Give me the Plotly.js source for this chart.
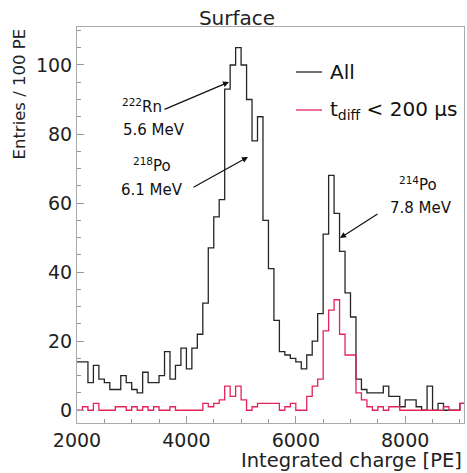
<!DOCTYPE html>
<html>
<head>
<meta charset="utf-8">
<script src="https://cdn.plot.ly/plotly-3.0.1.min.js"></script>
<style>html,body{margin:0;padding:0;background:#fff;}#chart{width:467px;height:473px;}</style>
</head>
<body>
<div id="chart"></div>
<script>
// Histogram: 100 PE bins starting at 2000 PE
const binStart = 2000;
const binWidth = 100;
const allCounts = [14,14,8,13,9,8,6,6,10,8,6,5,11,8,8,10,17,9,13,18,12,18,22,31,47,56,61,93,100,105,100,90,78,85,55,41,26,17,16,15,14,12,16,20,28,51,68,57,46,34,27,9,6,5,5,5,7,4,4,1,3,3,1,0,7,0,2,0,0,0,2];
const tdiffCounts = [0,1,0,2,0,0,0,1,1,0,1,0,1,0,1,0,0,1,0,0,0,0,0,2,1,2,3,7,4,7,3,0,1,2,2,2,2,0,1,2,0,0,4,7,9,23,29,32,22,16,16,5,3,1,0,1,0,1,1,0,0,0,0,0,0,0,0,1,0,0,2];
const xTickVals = [2000,4000,6000,8000];
const yTickVals = [0,20,40,60,80,100];

function stepXY(counts){
  const xs = [], ys = [];
  counts.forEach((c,i)=>{ xs.push(binStart + i*binWidth); ys.push(c); });
  xs.push(binStart + counts.length*binWidth); ys.push(counts[counts.length-1]);
  return {xs, ys};
}
const a = stepXY(allCounts), t = stepXY(tdiffCounts);

// plot area in px
const L=77, R=464, T=27, B=423, W=467, H=473;
const px = x => (x-L)/(R-L);
const py = y => (B-y)/(B-T);

const txtFont = {family:'DejaVu Sans, sans-serif', size:15, color:'#111'};
const legFont = {family:'DejaVu Sans, sans-serif', size:20, color:'#111'};

const traces = [
  {x:a.xs, y:a.ys, type:'scatter', mode:'lines', line:{shape:'hv', color:'#262626', width:1.3}, showlegend:false, hoverinfo:'skip'},
  {x:t.xs, y:t.ys, type:'scatter', mode:'lines', line:{shape:'hv', color:'#e3245a', width:1.3}, showlegend:false, hoverinfo:'skip'}
];

function lab(text, x, y, extra){
  return Object.assign({text, xref:'paper', yref:'paper', x:px(x), y:py(y), showarrow:false, font:txtFont, xanchor:'center', yanchor:'middle'}, extra||{});
}
function arrow(x0,y0,x1,y1){
  return {text:'', xref:'paper', yref:'paper', x:px(x1), y:py(y1), ax:x0-x1, ay:y0-y1, showarrow:true, arrowhead:2, arrowsize:1, arrowwidth:1.2, arrowcolor:'#111'};
}

const layout = {
  width:W, height:H,
  margin:{l:L, r:W-R, t:T, b:H-B},
  paper_bgcolor:'#fff', plot_bgcolor:'#fff',
  title:{text:'Surface', xref:'container', yref:'container', x:237/W, y:1-18/H, xanchor:'center', yanchor:'middle', font:{family:'DejaVu Sans, sans-serif', size:20, color:'#222'}},
  xaxis:{range:[2000,9075], tickvals:xTickVals, ticks:'inside', ticklen:7, tickcolor:'#999', tickwidth:1,
    minor:{dtick:500, ticks:'inside', ticklen:4, tickcolor:'#999', showgrid:false},
    showline:true, linecolor:'#aaa', linewidth:1, mirror:true, showgrid:false, zeroline:false,
    tickfont:{family:'DejaVu Sans, sans-serif', size:19, color:'#222'}},
  yaxis:{range:[-3.7,111], tickvals:yTickVals, ticks:'inside', ticklen:7, tickcolor:'#999', tickwidth:1,
    minor:{dtick:5, ticks:'inside', ticklen:4, tickcolor:'#999', showgrid:false},
    showline:true, linecolor:'#aaa', linewidth:1, mirror:true, showgrid:false, zeroline:false,
    tickfont:{family:'DejaVu Sans, sans-serif', size:19, color:'#222'}},
  shapes:[
    {type:'line', xref:'paper', yref:'paper', x0:px(296), x1:px(322), y0:py(72), y1:py(72), line:{color:'#262626', width:1.3}},
    {type:'line', xref:'paper', yref:'paper', x0:px(296), x1:px(322), y0:py(110), y1:py(110), line:{color:'#e3245a', width:1.3}}
  ],
  annotations:[
    lab('All', 328, 72, {xanchor:'left', font:legFont}),
    lab('t<sub>diff</sub> < 200 μs', 328, 110, {xanchor:'left', font:legFont}),
    lab('<sup>222</sup>Rn', 142, 106),
    lab('5.6 MeV', 154, 130),
    lab('<sup>218</sup>Po', 152, 165),
    lab('6.1 MeV', 152, 190),
    lab('<sup>214</sup>Po', 418, 184),
    lab('7.8 MeV', 421, 208),
    arrow(163,110,229,82),
    arrow(192,188,248,157),
    arrow(379,213,340,238),
    lab('Integrated charge [PE]', 464, 460, {xanchor:'right', font:{family:'DejaVu Sans, sans-serif', size:19.5, color:'#222'}}),
    lab('Entries / 100 PE', 19, 27, {yanchor:'top', textangle:-90, font:{family:'DejaVu Sans, sans-serif', size:16.5, color:'#222'}})
  ]
};

Plotly.newPlot('chart', traces, layout, {staticPlot:true, displayModeBar:false});
</script>
</body>
</html>
